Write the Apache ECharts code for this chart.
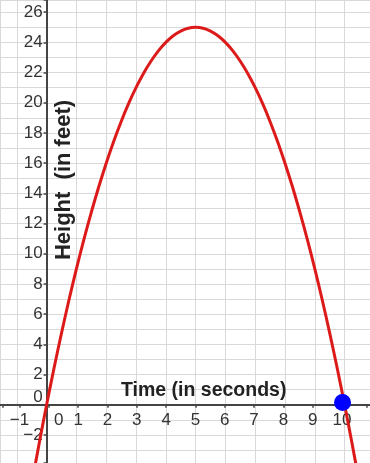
<!DOCTYPE html>
<html><head><meta charset="utf-8">
<script src="https://cdn.jsdelivr.net/npm/echarts@6/dist/echarts.min.js"></script>
<style>html,body{margin:0;padding:0;background:#fff}#c{width:370px;height:463px}</style>
</head><body><div id="c"></div>
<script>
const timeSeconds = [-0.5,-0.25,0,0.25,0.5,0.75,1,1.25,1.5,1.75,2,2.25,2.5,2.75,3,3.25,3.5,3.75,4,4.25,4.5,4.75,5,
                     5.25,5.5,5.75,6,6.25,6.5,6.75,7,7.25,7.5,7.75,8,8.25,8.5,8.75,9,9.25,9.5,9.75,10,10.25,10.5];
const heightFeet  = [-5.25,-2.56,0,2.44,4.75,6.94,9,10.94,12.75,14.44,16,17.44,18.75,19.94,21,21.94,22.75,23.44,24,24.44,24.75,24.94,25,
                     24.94,24.75,24.44,24,23.44,22.75,21.94,21,19.94,18.75,17.44,16,14.44,12.75,10.94,9,6.94,4.75,2.44,0,-2.56,-5.25];
const markedPoint = [9.93, 0.15];
const xTickLabels = [-1,0,1,2,3,4,5,6,7,8,9,10];
const yTickLabels = [-2,0,2,4,6,8,10,12,14,16,18,20,22,24,26];
const xTitle = 'Time (in seconds)';
const yTitle = 'Height  (in feet)';

const X_MIN = -1.564, X_MAX = 10.852, Y_MIN = -3.854, Y_MAX = 26.808;
const FONT = '"Liberation Sans", Arial, sans-serif';
const gridColor = '#d9d9d9';
const axisColor = '#444';
const fmt = v => (v < 0 ? '\u2212' + Math.abs(v) : String(v));

// pixel position of the axes crossing (origin) inside the 370x463 canvas
const ORIGIN_X = 46.6, ORIGIN_Y = 404.8;

const chart = echarts.init(document.getElementById('c'), null, {renderer: 'canvas'});
chart.setOption({
  animation: false,
  backgroundColor: '#fff',
  grid: [
    {left: 0, right: 0, top: 0, bottom: 0},                       // main plot
    {left: 0, right: 0, top: 0, bottom: 463 - ORIGIN_Y},           // x tick labels along y=0
    {left: ORIGIN_X, right: 0, top: 0, bottom: 0}                  // y tick labels along x=0
  ],
  xAxis: [
    {gridIndex: 0, type: 'value', min: X_MIN, max: X_MAX, minInterval: 1, maxInterval: 1,
     axisLine: {onZero: true, lineStyle: {color: axisColor, width: 2}},
     axisTick: {show: false}, axisLabel: {show: false},
     splitLine: {show: true, lineStyle: {color: gridColor, width: 1}}},
    {gridIndex: 1, type: 'value', min: X_MIN, max: X_MAX, minInterval: 1, maxInterval: 1,
     position: 'bottom',
     axisLine: {show: false, onZero: false},
     axisTick: {show: true, length: 3, lineStyle: {color: axisColor, width: 1.5}},
     splitLine: {show: false},
     axisLabel: {
       margin: 7, fontSize: 17, fontFamily: FONT, color: '#333',
       formatter: v => {
         if (!xTickLabels.includes(v)) return '';
         if (v === 0) return '{z|0}';
         return fmt(v);
       },
       rich: {z: {padding: [0, 0, 0, 20], fontSize: 17, fontFamily: FONT, color: '#333'}}
     }},
    {gridIndex: 2, type: 'value', min: X_MIN, max: X_MAX, show: false}
  ],
  yAxis: [
    {gridIndex: 0, type: 'value', min: Y_MIN, max: Y_MAX, minInterval: 1, maxInterval: 1,
     axisLine: {onZero: true, lineStyle: {color: axisColor, width: 2}},
     axisTick: {show: false}, axisLabel: {show: false},
     splitLine: {show: true, lineStyle: {color: gridColor, width: 1}}},
    {gridIndex: 1, type: 'value', min: Y_MIN, max: Y_MAX, show: false},
    {gridIndex: 2, type: 'value', min: Y_MIN, max: Y_MAX, minInterval: 2, maxInterval: 2,
     position: 'left',
     axisLine: {show: false, onZero: false},
     axisTick: {show: true, length: 3, lineStyle: {color: axisColor, width: 1.5}},
     splitLine: {show: false},
     axisLabel: {
       margin: 4, fontSize: 17, fontFamily: FONT, color: '#333',
       formatter: v => {
         if (!yTickLabels.includes(v)) return '';
         if (v === 0) return '{z|0}';
         return fmt(v);
       },
       rich: {z: {padding: [0, 0, 14, 0], fontSize: 17, fontFamily: FONT, color: '#333'}}
     }}
  ],
  series: [
    {
      type: 'line', xAxisIndex: 0, yAxisIndex: 0,
      smooth: 0.25, showSymbol: false, symbol: 'none',
      data: timeSeconds.map((t, i) => [t, heightFeet[i]]),
      lineStyle: {color: '#dd1a1a', width: 3},
      z: 3
    },
    {
      type: 'scatter', xAxisIndex: 0, yAxisIndex: 0,
      data: [markedPoint], symbolSize: 17,
      itemStyle: {color: '#0000ff', opacity: 1}, z: 4
    }
  ],
  graphic: [
    {type: 'text', x: 203.7, y: 390.5, z: 10,
     style: {text: xTitle, font: 'bold 19.5px ' + FONT, fill: '#222', align: 'center', verticalAlign: 'middle'}},
    {type: 'text', x: 64, y: 180, rotation: Math.PI / 2, z: 10,
     style: {text: yTitle, font: 'bold 22px ' + FONT, fill: '#222', align: 'center', verticalAlign: 'middle'}}
  ]
});
</script></body></html>
